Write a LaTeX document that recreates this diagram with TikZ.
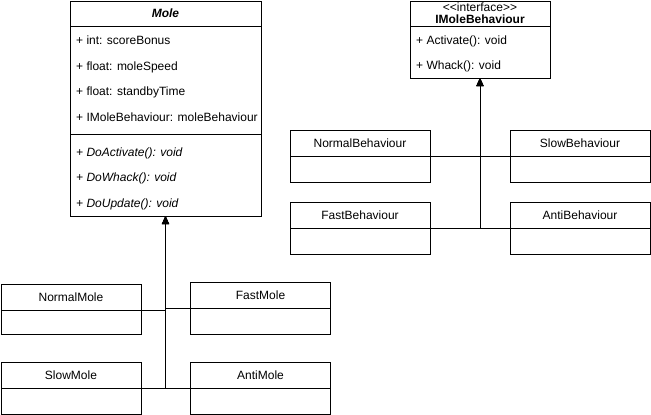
\documentclass[tikz,border=0pt]{standalone}
\usepackage{fontspec}
\setmainfont{Liberation Sans}
\usetikzlibrary{arrows.meta, positioning}

\begin{document}
\begin{tikzpicture}[
  x=1pt, y=-1pt,
  every node/.style={font=\fontsize{12}{14}\selectfont},
  head/.style={rectangle, draw, line width=0.9pt, inner sep=0pt, outer sep=0pt,
               minimum width=140pt, minimum height=26pt, anchor=north west},
  member/.style={anchor=base west, inner sep=0pt},
  inherit/.style={-{Triangle[width=7pt, length=8pt]}, line width=0.9pt}
]
  \useasboundingbox (0,0) rectangle (651,415);

  % Classe abstraite Mole
  \node[head, minimum width=191pt, minimum height=25pt] (mole) at (70,1) {\textbf{\textit{Mole}}};
  \node[head, minimum width=191pt, minimum height=108pt, below=0pt of mole] (moleattr) {};
  \node[head, minimum width=191pt, minimum height=82pt, below=0pt of moleattr] (molemeth) {};

  \node[member] (attr1) at (76,44)  {+ int: scoreBonus};
  \node[member] (attr2) at (76,70)  {+ float: moleSpeed};
  \node[member] (attr3) at (76,95)  {+ float: standbyTime};
  \node[member] (attr4) at (76,121) {+ IMoleBehaviour: moleBehaviour};
  \node[member] (meth1) at (76,156) {\textit{+ DoActivate(): void}};
  \node[member] (meth2) at (76,181) {\textit{+ DoWhack(): void}};
  \node[member] (meth3) at (76,207) {\textit{+ DoUpdate(): void}};

  % Interface IMoleBehaviour
  \node[head, minimum height=25pt, align=center,
        font=\fontsize{12}{12}\selectfont] (ibeh) at (410,1)
        {<\kern0pt<interface>\kern0pt>\\\textbf{IMoleBehaviour}};
  \node[head, minimum height=52pt, below=0pt of ibeh] (ibehbody) {};
  \node[member] (iop1) at (416,45) {+ Activate(): void};
  \node[member] (iop2) at (416,69) {+ Whack(): void};

  % Comportements
  \node[head] (nbhead) at (290,130) {NormalBehaviour};
  \node[head, below=0pt of nbhead] (nbbody) {};
  \node[head] (sbhead) at (510,130) {SlowBehaviour};
  \node[head, below=0pt of sbhead] (sbbody) {};
  \node[head] (fbhead) at (290,202.5) {FastBehaviour};
  \node[head, below=0pt of fbhead] (fbbody) {};
  \node[head] (abhead) at (510,202.5) {AntiBehaviour};
  \node[head, below=0pt of abhead] (abbody) {};

  % Sous-classes de Mole
  \node[head] (nmhead) at (1,284) {NormalMole};
  \node[head, minimum height=24pt, below=0pt of nmhead] (nmbody) {};
  \node[head] (fmhead) at (190.5,282) {FastMole};
  \node[head, below=0pt of fmhead] (fmbody) {};
  \node[head] (smhead) at (1,362) {SlowMole};
  \node[head, below=0pt of smhead] (smbody) {};
  \node[head] (amhead) at (190.5,362) {AntiMole};
  \node[head, below=0pt of amhead] (ambody) {};

  % Héritage / réalisation
  \draw[inherit] (nbhead.south east) -| (ibehbody.south);
  \draw[inherit] (sbhead.south west) -| (ibehbody.south);
  \draw[inherit] (fbhead.south east) -| (ibehbody.south);
  \draw[inherit] (abhead.south west) -| (ibehbody.south);

  \draw[inherit] (nmhead.south east) -| (molemeth.south);
  \draw[inherit] (fmhead.south west) -| (molemeth.south);
  \draw[inherit] (smhead.south east) -| (molemeth.south);
  \draw[inherit] (amhead.south west) -| (molemeth.south);
\end{tikzpicture}
\end{document}
